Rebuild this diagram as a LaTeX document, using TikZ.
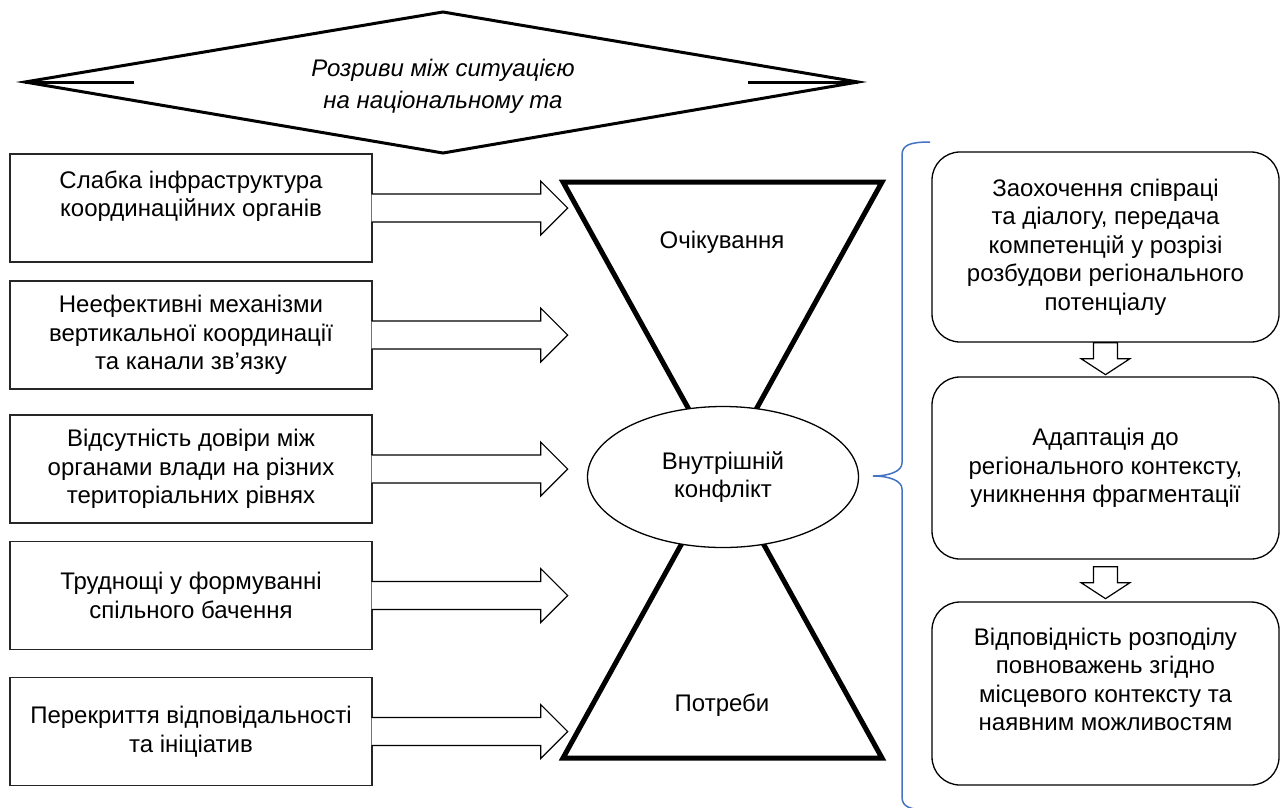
\documentclass[tikz,border=0pt]{standalone}
\usepackage{fontspec}
\setmainfont{Liberation Sans}
\usetikzlibrary{shapes.geometric}
\definecolor{bracecol}{RGB}{68,114,196}

\begin{document}
\begin{tikzpicture}[x=1pt, y=-1pt,
    every node/.style={font=\fontsize{24}{28.5}\selectfont, align=center, inner sep=0pt},
    cause/.style={draw=black!85, line width=1.3pt, fill=white,
        minimum width=362pt, minimum height=108pt},
    measure/.style={draw, line width=1.3pt, rounded corners=28pt,
        minimum width=347pt},
    blockarrow/.style={draw, fill=white, line width=1.2pt}
    ]
\useasboundingbox (0,0) rectangle (1282,807);

% diamond on top
\coordinate (dl) at (25,82);
\coordinate (dt) at (443,12);
\coordinate (dr) at (858,82);
\coordinate (db) at (443,153);
\draw[line width=3pt] (dl) -- (dt) -- (dr) -- (db) -- cycle;
\draw[line width=3pt] (dl) -- (134,82);
\draw[line width=3pt] (dr) -- (748,82);
\node[font=\fontsize{24}{32}\selectfont\itshape] (gap) at (443,86)
    {Розриви між ситуацією\\на національному та};

% causes on the left
\node[cause] (weak) at (191,208) {Слабка інфраструктура\\координаційних органів\\~};
\node[cause] (mech) at (191,335) {Неефективні механізми\\вертикальної координації\\та канали зв’язку};
\node[cause] (trust) at (191,469) {Відсутність довіри між\\органами влади на різних\\територіальних рівнях};
\node[cause] (vision) at (191,595.5) {Труднощі у формуванні\\спільного бачення};
\node[cause] (overlap) at (191,731.5) {Перекриття відповідальності\\та ініціатив};

\foreach \b in {weak,mech,trust,vision,overlap}
    \path[blockarrow] (\b.east) ++(-1,-14) -- ++(169,0) -- ++(0,-13)
        -- ++(27,27) -- ++(-27,27) -- ++(0,-13) -- ++(-169,0);

% hourglass
\coordinate (neck) at (722.5,470);
\draw[line width=5pt] (563,182) -- (882,182) -- (neck) -- cycle;
\draw[line width=5pt] (563,758) -- (882,758) -- (neck) -- cycle;
\node (expect) at (722,242) {Очікування};
\node (needs) at (722,705) {Потреби};
\node[ellipse, draw, fill=white, line width=1.3pt,
    minimum width=271pt, minimum height=141pt] (conflict) at (723,477)
    {Внутрішній\\конфлікт};

% brace
\begin{scope}
\clip (0,0) rectangle (1282,807);
\draw[bracecol, line width=1.5pt] (930,142) .. controls (910,142) and (902,145) .. (902,155)
    -- (902,463) .. controls (902,471) and (890,476) .. (873,476)
    .. controls (890,476) and (902,481) .. (902,489)
    -- (902,797) .. controls (902,807) and (910,810) .. (930,810);
\end{scope}

% measures on the right
\node[measure, minimum height=190pt] (coop) at (1105.5,247)
    {Заохочення співраці\\та діалогу, передача\\компетенцій у розрізі\\розбудови регіонального\\потенціалу};
\node[measure, minimum height=182pt] (adapt) at (1105.5,468)
    {Адаптація до\\регіонального контексту,\\уникнення фрагментації};
\node[measure, minimum height=183pt] (match) at (1105.5,693.5)
    {Відповідність розподілу\\повноважень згідно\\місцевого контексту та\\наявним можливостям\\~};

\foreach \a/\g in {coop/0, adapt/7}
    \draw[blockarrow] (\a.south) ++(-12,\g) -- ++(24,0) -- ++(0,16) -- ++(12.5,0)
        -- ++(-24.5,16) -- ++(-24.5,-16) -- ++(12.5,0) -- cycle;
\end{tikzpicture}
\end{document}
